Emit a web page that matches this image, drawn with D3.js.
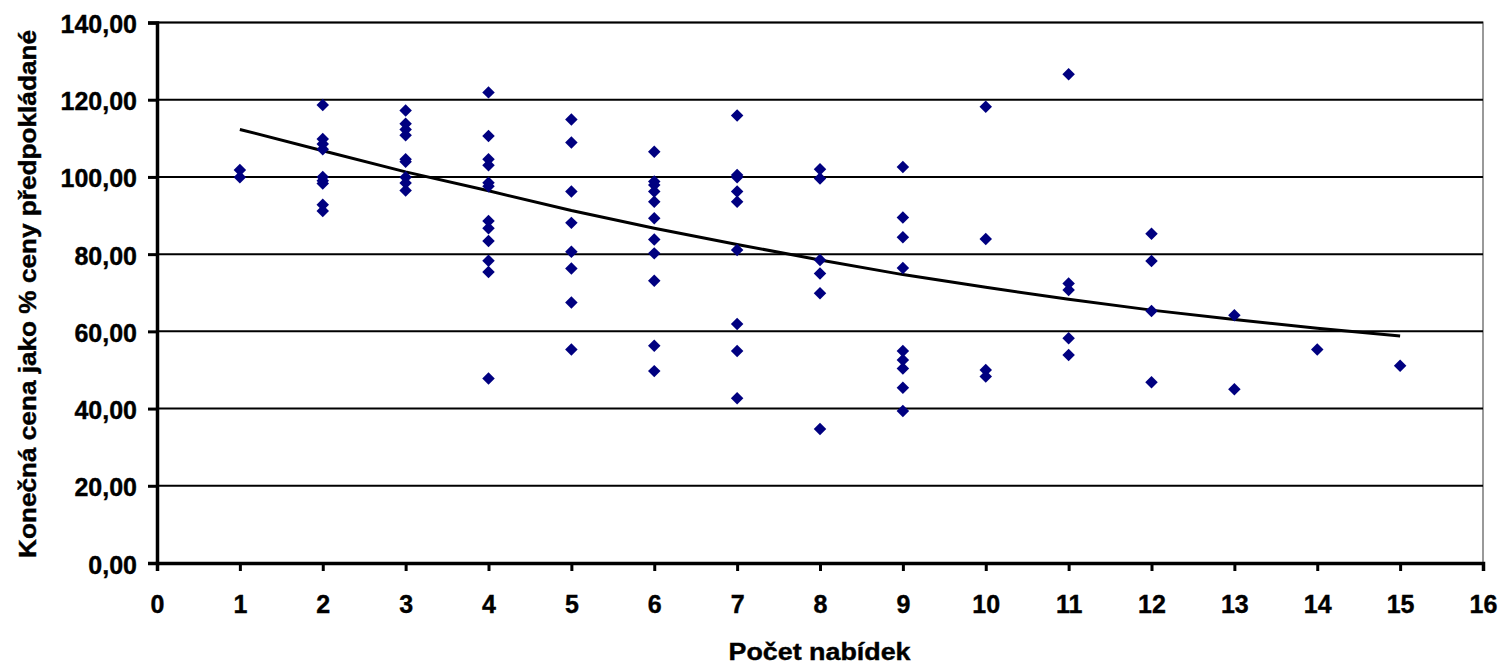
<!DOCTYPE html>
<html>
<head>
<meta charset="utf-8">
<script src="https://cdn.jsdelivr.net/npm/d3@7"></script>
<style>
	body { margin: 0; background: #fff; }
	text { font-family: "Liberation Sans", Arial, sans-serif; font-weight: bold; fill: #000; }
</style>
</head>
<body>
<div id="chart"></div>
<script>
// number of bids per tender (x) and final price as % of expected price (y)
var bidCounts = [1, 2, 3, 4, 5, 6, 7, 8, 9, 10, 11, 12, 13, 14, 15];
var pricesByCount = [
	[101.8, 99.9],
	[118.6, 109.8, 108.5, 107.2, 100.0, 99.0, 98.3, 92.8, 91.2],
	[117.2, 113.8, 112.3, 110.8, 104.6, 103.9, 99.9, 98.4, 96.5],
	[121.9, 110.6, 104.6, 103.0, 98.5, 97.6, 88.6, 86.7, 83.4, 78.3, 75.4, 47.8],
	[114.9, 108.9, 96.2, 88.1, 80.6, 76.3, 67.5, 55.3],
	[106.5, 98.8, 97.9, 96.2, 93.6, 89.3, 83.8, 80.2, 73.1, 56.3, 49.7],
	[115.9, 100.5, 99.9, 96.2, 93.6, 81.1, 61.9, 54.9, 42.7],
	[102.0, 99.6, 78.5, 75.0, 69.9, 34.7],
	[102.6, 89.5, 84.4, 76.4, 54.9, 52.6, 50.4, 45.4, 39.4],
	[118.2, 83.9, 50.0, 48.3],
	[126.6, 72.4, 70.7, 58.2, 53.9],
	[85.3, 78.2, 65.3, 46.8],
	[64.2, 45.0],
	[55.3],
	[51.1]
];
// trend line, one value per bid count
var trendValues = [112.3, 106.8, 101.3, 96.4, 91.3, 86.7, 82.5, 78.5, 74.7, 71.4, 68.3, 65.5, 63.1, 60.8, 58.8];

var xTicks = d3.range(0, 17);
var yTicks = [0, 20, 40, 60, 80, 100, 120, 140];

var width = 1500, height = 666;
var margin = { left: 157, right: 17, top: 22.5, bottom: 103 };

var points = [];
bidCounts.forEach(function(c, i) {
	pricesByCount[i].forEach(function(v) { points.push({ x: c, y: v }); });
});

var x = d3.scaleLinear().domain([0, 16]).range([margin.left, width - margin.right]);
var y = d3.scaleLinear().domain([0, 140]).range([height - margin.bottom, margin.top]);

var svg = d3.select("#chart").append("svg")
	.attr("width", width)
	.attr("height", height);

// plot area border
svg.append("rect")
	.attr("x", x(0))
	.attr("y", y(140))
	.attr("width", x(16) - x(0))
	.attr("height", y(0) - y(140))
	.attr("fill", "none")
	.attr("stroke", "#999")
	.attr("stroke-width", 2);

// gridlines
svg.append("g")
	.selectAll("line")
	.data(yTicks.filter(function(d) { return d > 0; }))
	.enter()
	.append("line")
	.attr("x1", x(0))
	.attr("x2", x(16))
	.attr("y1", function(d) { return y(d); })
	.attr("y2", function(d) { return y(d); })
	.attr("stroke", "#000")
	.attr("stroke-width", 2);

// axes
var yAxis = d3.axisLeft(y)
	.tickValues(yTicks)
	.tickSize(9)
	.tickPadding(11)
	.tickFormat(function(d) { return d3.format(".2f")(d).replace(".", ","); });
var gy = svg.append("g")
	.attr("transform", "translate(" + x(0) + ",0)")
	.call(yAxis);

var xAxis = d3.axisBottom(x)
	.tickValues(xTicks)
	.tickSize(8)
	.tickPadding(25)
	.tickFormat(d3.format("d"));
var gx = svg.append("g")
	.attr("transform", "translate(0," + y(0) + ")")
	.call(xAxis);

[gx, gy].forEach(function(g) {
	g.select(".domain").attr("stroke", "#000").attr("stroke-width", 3.5);
	g.selectAll(".tick line").attr("stroke", "#000").attr("stroke-width", 3);
	g.selectAll(".tick text")
		.attr("font-family", "Liberation Sans, Arial, sans-serif")
		.attr("font-weight", "bold")
		.attr("font-size", 25)
		.attr("fill", "#000")
		.attr("stroke", "#000")
		.attr("stroke-width", 0.4);
});
gy.selectAll(".tick text").attr("dy", "0.4em");
gx.selectAll(".tick text").attr("dy", "0.68em");

// trend line
var line = d3.line()
	.x(function(d, i) { return x(bidCounts[i]); })
	.y(function(d) { return y(d); });
svg.append("path")
	.datum(trendValues)
	.attr("d", line)
	.attr("fill", "none")
	.attr("stroke", "#000")
	.attr("stroke-width", 3);

// scatter points
var diamond = d3.symbol().type(d3.symbolSquare).size(78);
svg.append("g")
	.selectAll("path")
	.data(points)
	.enter()
	.append("path")
	.attr("d", diamond)
	.attr("transform", function(d) { return "translate(" + x(d.x) + "," + y(d.y) + ") rotate(45)"; })
	.attr("fill", "#000080");

// axis titles
svg.append("text")
	.attr("x", (x(0) + x(16)) / 2 - 0.5)
	.attr("y", 660)
	.attr("text-anchor", "middle")
	.attr("font-size", 24)
	.attr("stroke", "#000")
	.attr("stroke-width", 0.4)
	.attr("textLength", 182)
	.attr("lengthAdjust", "spacingAndGlyphs")
	.text("Počet nabídek");

svg.append("text")
	.attr("transform", "translate(36," + 294 + ") rotate(-90)")
	.attr("text-anchor", "middle")
	.attr("font-size", 24)
	.attr("stroke", "#000")
	.attr("stroke-width", 0.4)
	.attr("textLength", 528)
	.attr("lengthAdjust", "spacingAndGlyphs")
	.text("Konečná cena jako % ceny předpokládané");
</script>
</body>
</html>
